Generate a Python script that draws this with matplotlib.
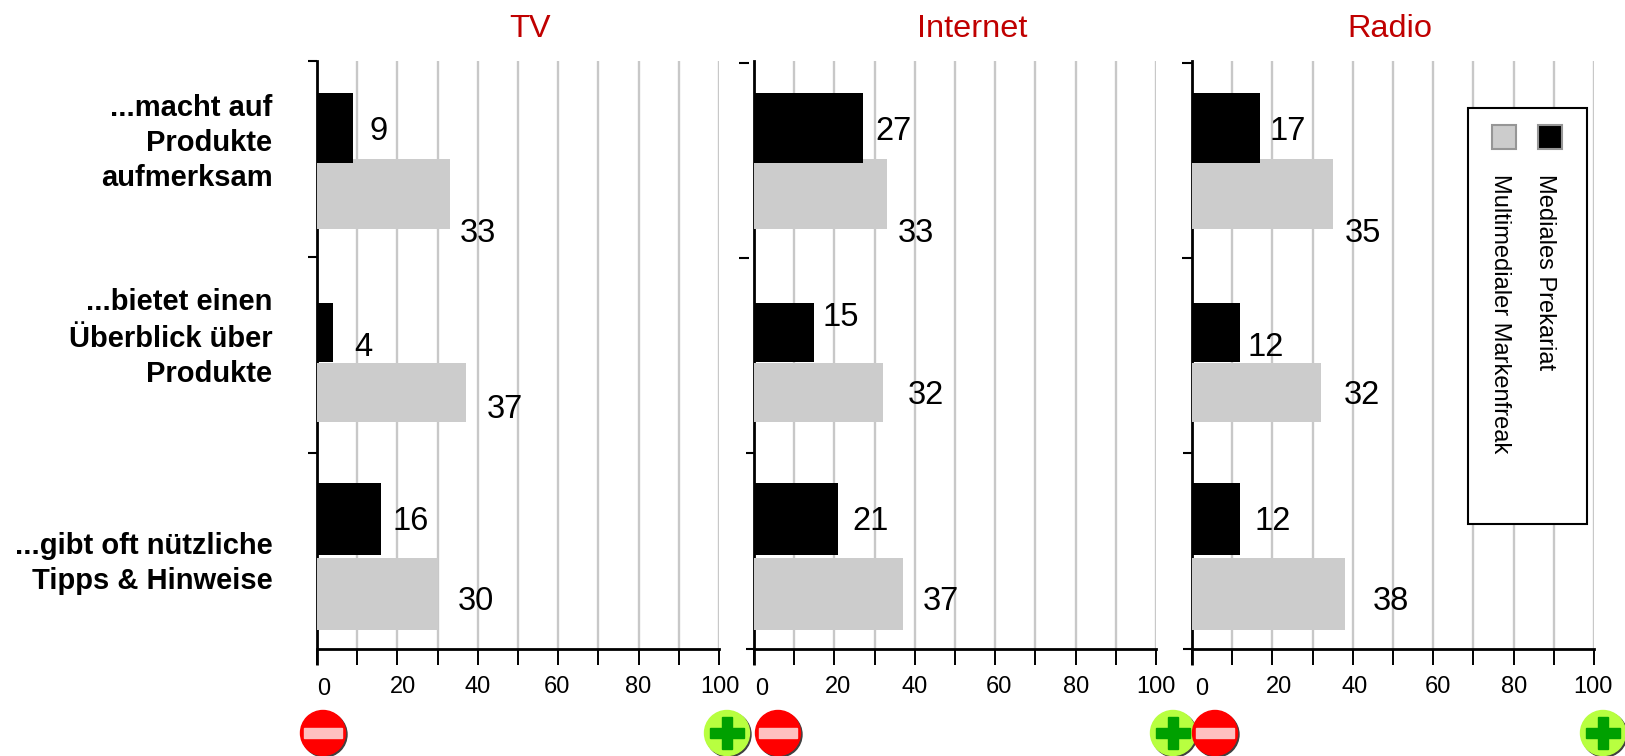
import matplotlib
matplotlib.use("Agg")
import matplotlib.pyplot as plt
from matplotlib.patches import Circle, Rectangle

plt.rcParams['font.family'] = ['Liberation Sans', 'DejaVu Sans']

# data
panels = ['TV', 'Internet', 'Radio']
prekariat = [[9, 4, 16], [27, 15, 21], [17, 12, 12]]
markenfreak = [[33, 37, 30], [33, 32, 37], [35, 32, 38]]
category_lines = [['...macht auf', 'Produkte', 'aufmerksam'],
                  ['...bietet einen', 'Überblick über', 'Produkte'],
                  ['...gibt oft nützliche', 'Tipps & Hinweise']]
legend_names = ['Multimedialer Markenfreak', 'Mediales Prekariat']
x_tick_labels = [0, 20, 40, 60, 80, 100]

# layout, all in image pixels
W, H = 1625, 756
axis_left = [317, 754, 1192]
axis_width = 402
axis_top, axis_bottom = 61, 649
black_rows = [(93, 163), (303, 362), (483, 555)]
gray_rows = [(159, 229), (363, 422), (558, 630)]

# y ticks per panel: (y, start, end) relative to the axis line, the source is not tidy here
y_ticks = [[(61, -9, 0), (257, -9, 0), (453, -9, 0)],
           [(63, -15, -5), (258, -15, -5), (453, -8, 0), (649, -8, 0)],
           [(63, -10, 0), (258, -10, 0), (453, -9, 0), (649, -9, 0)]]

# the value labels do not sit at a fixed distance from the bars
prek_label_x = [[15.2, 11.6, 23.3], [34.6, 21.7, 28.9], [23.7, 18.3, 20.1]]
mark_label_x = [[40, 46.7, 39.5], [40.3, 42.8, 46.5], [42.5, 42.3, 49.4]]
prek_label_y = [[132, 347, 521], [132, 317, 521], [132, 348, 521]]
mark_label_y = [[233, 409, 602], [233, 395, 602], [233, 395, 602]]

tick_label_x = [[324, 403, 478, 557, 638, 720],
                [762, 838, 915, 999, 1076, 1156],
                [1202, 1279, 1355, 1438, 1514, 1593]]
title_x = [530, 972, 1390]
red_x = [323, 778, 1215]
green_x = [727, 1173, 1603]
button_y = 733

fig = plt.figure(figsize=(W / 100, H / 100), dpi=100, facecolor='white')

for i, name in enumerate(panels):
    ax = fig.add_axes([axis_left[i] / W, (H - axis_bottom) / H,
                       axis_width / W, (axis_bottom - axis_top) / H])
    ax.set_xlim(0, 100)
    ax.set_ylim(axis_bottom, axis_top)
    for s in ['top', 'right']:
        ax.spines[s].set_visible(False)
    for s in ['left', 'bottom']:
        ax.spines[s].set_linewidth(2)
    ax.set_axisbelow(True)
    ax.set_xticks(range(0, 101, 10))
    ax.set_xticklabels([])
    ax.tick_params(axis='x', length=11.5, width=1.4, color='black')
    ax.grid(axis='x', color='#c8c8c8', linewidth=1.7)
    ax.set_yticks([])
    ax.patch.set_alpha(0)

    for r in range(3):
        top, bottom = gray_rows[r]
        ax.barh((top + bottom) / 2, markenfreak[i][r], height=bottom - top,
                color='#cccccc', zorder=3)
    for r in range(3):
        top, bottom = black_rows[r]
        ax.barh((top + bottom) / 2, prekariat[i][r], height=bottom - top,
                color='black', zorder=3.1)
        ax.text(prek_label_x[i][r], prek_label_y[i][r], str(prekariat[i][r]),
                fontsize=23.5, ha='center', va='center', zorder=4)
        ax.text(mark_label_x[i][r], mark_label_y[i][r], str(markenfreak[i][r]),
                fontsize=23.5, ha='center', va='center', zorder=4)

# overlay in pixel coordinates for everything outside the scales
ov = fig.add_axes([0, 0, 1, 1], zorder=10)
ov.set_xlim(0, W)
ov.set_ylim(H, 0)
ov.axis('off')

for i, name in enumerate(panels):
    ov.text(title_x[i], 29, name, color='#c00000', fontsize=23.4, ha='center', va='center')
    for y, tick_from, tick_to in y_ticks[i]:
        ov.plot([axis_left[i] + tick_from, axis_left[i] + tick_to], [y, y],
                color='black', lw=1.5, solid_capstyle='butt')
    ov.plot([axis_left[i], axis_left[i]], [axis_bottom, axis_bottom + 16],
            color='black', lw=2, solid_capstyle='butt')
    for j, lab in enumerate(x_tick_labels):
        y = 689 if j == 0 else 687
        ov.text(tick_label_x[i][j], y, str(lab), fontsize=17, ha='center', va='center')

    # plus and minus buttons, red sits over green where they touch
    ov.add_patch(Circle((green_x[i] + 1.5, button_y + 1.5), 22.5, color='#404040', zorder=2))
    ov.add_patch(Circle((green_x[i], button_y), 22.5, color='#b8ff40', zorder=2.1))
    ov.add_patch(Rectangle((green_x[i] - 17, button_y - 5), 34, 10, color='#00a000', zorder=2.2))
    ov.add_patch(Rectangle((green_x[i] - 5, button_y - 16), 10, 32, color='#00a000', zorder=2.2))
    ov.add_patch(Circle((red_x[i] + 1.5, button_y + 1.5), 22.5, color='#404040', zorder=3))
    ov.add_patch(Circle((red_x[i], button_y), 22.5, color='#ff0000', zorder=3.1))
    ov.add_patch(Rectangle((red_x[i] - 19, button_y - 5), 38, 10, color='#ffc0c0', zorder=3.2))

cat_y = [[108, 143, 178], [302, 339, 374], [546, 581]]
for r, lines in enumerate(category_lines):
    for k, line in enumerate(lines):
        ov.text(272.5, cat_y[r][k], line, fontsize=21, fontweight='bold', ha='right', va='center')

# legend box, reads sideways
ov.add_patch(Rectangle((1468, 108), 119, 416, fc='white', ec='black', lw=1.5, zorder=4))
ov.add_patch(Rectangle((1492, 125), 24, 24, fc='#cccccc', ec='#969696', lw=1.5, zorder=5))
ov.add_patch(Rectangle((1538, 125), 24, 24, fc='black', ec='#969696', lw=1.5, zorder=5))
ov.text(1500, 174, legend_names[0], rotation=270, fontsize=17, ha='center', va='top', zorder=5)
ov.text(1545, 174, legend_names[1], rotation=270, fontsize=17, ha='center', va='top', zorder=5)

fig.savefig('out.png', dpi=100)
